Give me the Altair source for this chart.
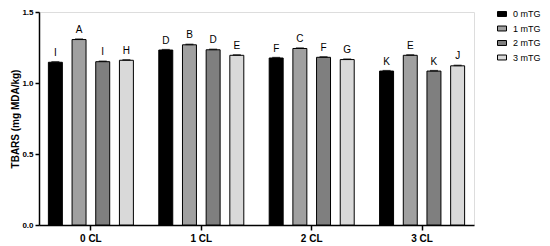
import altair as alt
import pandas as pd

groups = ["0 CL", "1 CL", "2 CL", "3 CL"]
series = ["0 mTG", "1 mTG", "2 mTG", "3 mTG"]
colors = ["#000000", "#a0a0a0", "#7f7f7f", "#d9d9d9"]
values = {
    "0 CL": [1.146, 1.306, 1.150, 1.160],
    "1 CL": [1.232, 1.269, 1.234, 1.195],
    "2 CL": [1.176, 1.243, 1.181, 1.165],
    "3 CL": [1.084, 1.195, 1.084, 1.121],
}
letters = {
    "0 CL": ["I", "A", "I", "H"],
    "1 CL": ["D", "B", "D", "E"],
    "2 CL": ["F", "C", "F", "G"],
    "3 CL": ["K", "E", "K", "J"],
}
errors = [0.003, 0.003, 0.003, 0.003]

rows = []
for g in groups:
    for i, s in enumerate(series):
        rows.append({"group": g, "series": s, "value": values[g][i],
                     "letter": letters[g][i], "hi": values[g][i] + errors[i]})
df = pd.DataFrame(rows)

FONT = "Liberation Sans"

x = alt.X("group:N", sort=groups, title=None,
          scale=alt.Scale(paddingInner=0.23, paddingOuter=0.085),
          axis=alt.Axis(labelAngle=0, labelFontWeight="bold", labelFontSize=10,
                        labelColor="#000", domainColor="#000", domainWidth=1.5,
                        tickColor="#000", tickWidth=1.5, tickSize=5, labelPadding=3))
xo = alt.XOffset("series:N", sort=series,
                 scale=alt.Scale(paddingInner=0.41, paddingOuter=0.0))
y = alt.Y("value:Q", title="TBARS (mg MDA/kg)",
          scale=alt.Scale(domain=[0, 1.5], nice=False),
          axis=alt.Axis(values=[0, 0.5, 1.0, 1.5], format=".1f", grid=False,
                        labelFontWeight="bold", labelFontSize=8, labelColor="#000",
                        titleFontWeight="bold", titleFontSize=10, titleColor="#000",
                        domainColor="#000", domainWidth=1.5, tickColor="#000",
                        tickWidth=1.5, tickSize=4, titlePadding=1))

color = alt.Color("series:N", sort=series,
                  scale=alt.Scale(domain=series, range=colors),
                  legend=alt.Legend(title=None, orient="none", legendX=458, legendY=-3,
                                    symbolType="M-1,-0.55H1V0.55H-1Z", symbolSize=81,
                                    symbolStrokeColor="#000", symbolStrokeWidth=1,
                                    labelFontSize=9, labelColor="#000", rowPadding=4.5,
                                    labelOffset=6, labelFont=FONT))

bars = alt.Chart(df).mark_bar(stroke="#000", strokeWidth=1).encode(
    x=x, xOffset=xo, y=y, color=color)

caps = alt.Chart(df).mark_tick(thickness=1.5, size=8).encode(
    x=x, xOffset=xo, y=alt.Y("hi:Q"), color=alt.value("#000"))

labels = alt.Chart(df).mark_text(baseline="bottom", dy=-4, fontSize=10,
                                 font=FONT, fill="#000", opacity=1).encode(
    x=x, xOffset=xo, y=alt.Y("hi:Q"), text="letter:N")

chart = alt.layer(bars, caps, labels).properties(
    width=435, height=213,
    autosize=alt.AutoSizeParams(type="none"),
    padding={"left": 31, "top": 4, "right": 68, "bottom": 20},
).configure_view(stroke=None).configure(font=FONT)

chart.save("out.html", embed_options={"renderer": "svg", "actions": False})
